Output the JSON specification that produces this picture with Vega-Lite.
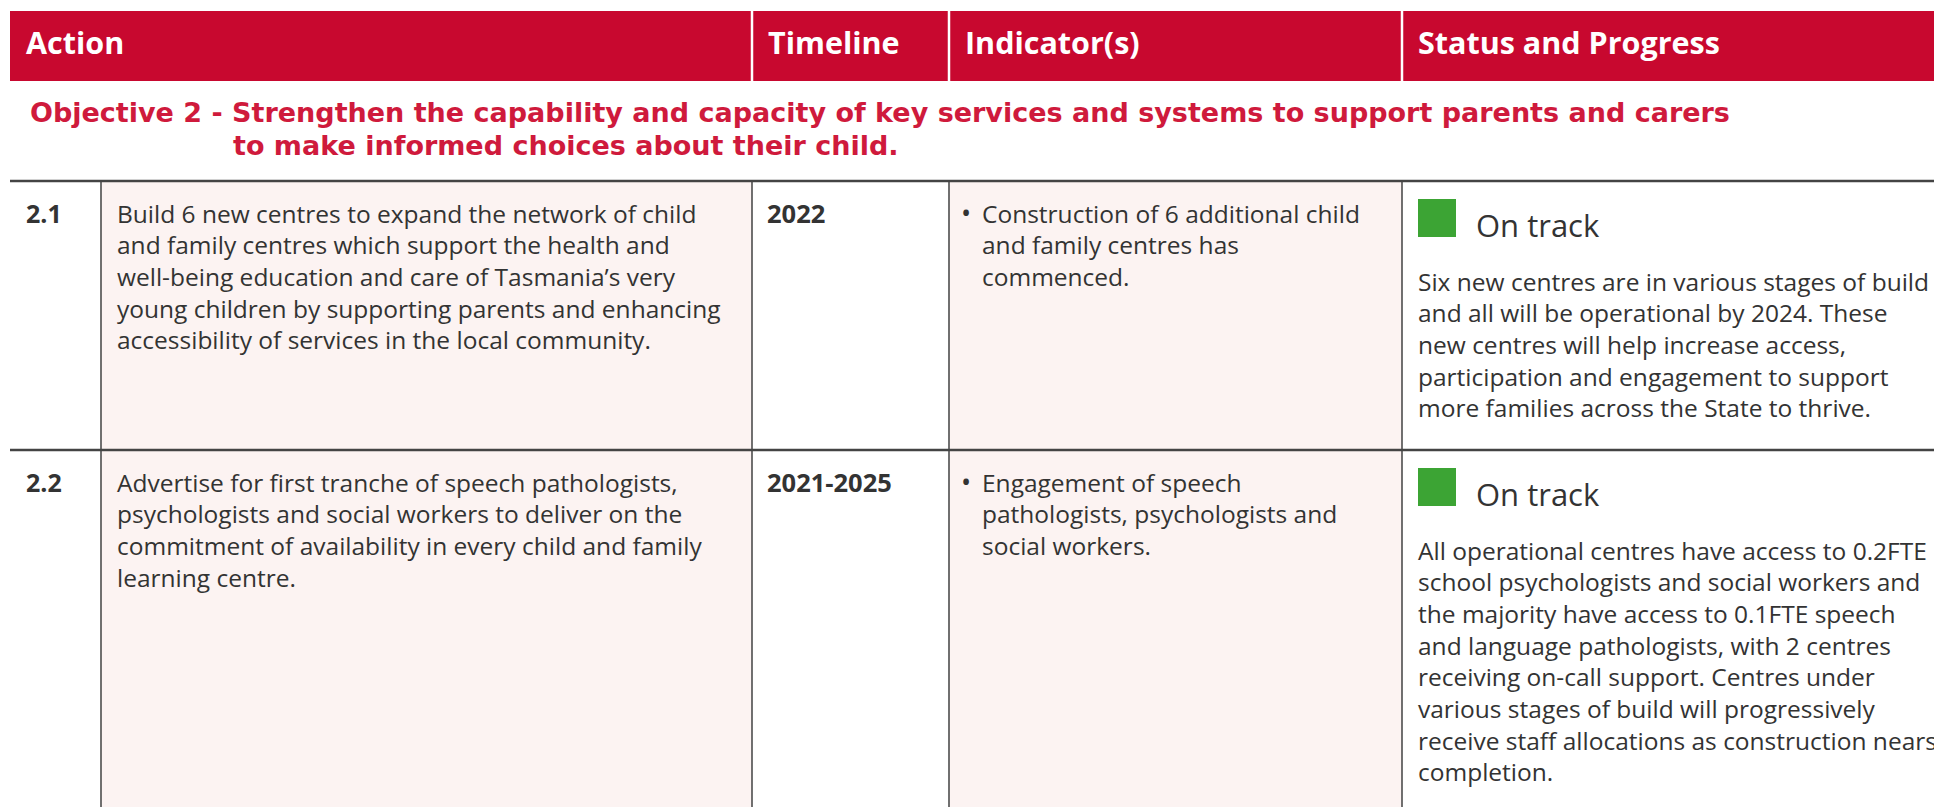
{
  "$schema": "https://vega.github.io/schema/vega-lite/v6.json",
  "width": 1934,
  "height": 807,
  "autosize": "none",
  "padding": 0,
  "background": "white",
  "config": {"view": {"stroke": null}},
  "datasets": {
    "blocks": [
      {"kind": "header", "c": 0, "c2": 5, "r": 1, "r2": 2},
      {"kind": "shade", "c": 1, "c2": 2, "r": 3, "r2": 5},
      {"kind": "shade", "c": 3, "c2": 4, "r": 3, "r2": 5}
    ],
    "header": [
      {"r": 1, "c": 0, "label": "Action"},
      {"r": 1, "c": 2, "label": "Timeline"},
      {"r": 1, "c": 3, "label": "Indicator(s)"},
      {"r": 1, "c": 4, "label": "Status and Progress"}
    ],
    "objective": [
      {"r": 2, "line1": "Objective 2 - Strengthen the capability and capacity of key services and systems to support parents and carers", "line2": "to make informed choices about their child."}
    ],
    "hlines": [{"r": 3}, {"r": 4}],
    "vlines": [{"c": 1}, {"c": 2}, {"c": 3}, {"c": 4}],
    "hdividers": [{"c": 2}, {"c": 3}, {"c": 4}],
    "rows": [
      {
        "r": 3,
        "num": "2.1",
        "action": "Build 6 new centres to expand the network of child\nand family centres which support the health and\nwell-being education and care of Tasmania’s very\nyoung children by supporting parents and enhancing\naccessibility of services in the local community.",
        "timeline": "2022",
        "indicator": "Construction of 6 additional child\nand family centres has\ncommenced.",
        "status": "On track",
        "progress": "Six new centres are in various stages of build\nand all will be operational by 2024. These\nnew centres will help increase access,\nparticipation and engagement to support\nmore families across the State to thrive."
      },
      {
        "r": 4,
        "num": "2.2",
        "action": "Advertise for first tranche of speech pathologists,\npsychologists and social workers to deliver on the\ncommitment of availability in every child and family\nlearning centre.",
        "timeline": "2021-2025",
        "indicator": "Engagement of speech\npathologists, psychologists and\nsocial workers.",
        "status": "On track",
        "progress": "All operational centres have access to 0.2FTE\nschool psychologists and social workers and\nthe majority have access to 0.1FTE speech\nand language pathologists, with 2 centres\nreceiving on-call support. Centres under\nvarious stages of build will progressively\nreceive staff allocations as construction nears\ncompletion."
      }
    ]
  },
  "layer": [
    {
      "data": {"name": "blocks"},
      "mark": {"type": "rect"},
      "encoding": {
        "x": {"field": "c", "type": "quantitative", "scale": {"domain": [0, 1, 2, 3, 4, 5], "range": [10, 101, 752, 949, 1402, 1934], "nice": false, "zero": false}, "axis": null},
        "x2": {"field": "c2"},
        "y": {"field": "r", "type": "quantitative", "scale": {"domain": [1, 2, 3, 4, 5], "range": [11, 81, 181, 450, 900], "nice": false, "zero": false}, "axis": null},
        "y2": {"field": "r2"},
        "color": {"field": "kind", "type": "nominal", "scale": {"domain": ["header", "shade"], "range": ["#c8082f", "#fcf3f2"]}, "legend": null}
      }
    },
    {
      "data": {"name": "hdividers"},
      "mark": {"type": "rule", "color": "white", "strokeWidth": 2.5},
      "encoding": {
        "x": {"field": "c", "type": "quantitative"},
        "y": {"datum": 1, "type": "quantitative"},
        "y2": {"datum": 2}
      }
    },
    {
      "data": {"name": "vlines"},
      "mark": {"type": "rule", "color": "#4d4d4d", "strokeWidth": 1.6},
      "encoding": {
        "x": {"field": "c", "type": "quantitative"},
        "y": {"datum": 3, "type": "quantitative"},
        "y2": {"datum": 5}
      }
    },
    {
      "data": {"name": "hlines"},
      "mark": {"type": "rule", "color": "#444444", "strokeWidth": 2.5},
      "encoding": {
        "x": {"datum": 0, "type": "quantitative"},
        "x2": {"datum": 5},
        "y": {"field": "r", "type": "quantitative"}
      }
    },
    {
      "data": {"name": "header"},
      "mark": {"type": "text", "align": "left", "baseline": "alphabetic", "dx": 16, "dy": 43, "font": "Open Sans", "fontWeight": "bold", "fontSize": 30.5, "color": "white"},
      "encoding": {
        "x": {"field": "c", "type": "quantitative"},
        "y": {"field": "r", "type": "quantitative"},
        "text": {"field": "label"}
      }
    },
    {
      "data": {"name": "objective"},
      "mark": {"type": "text", "align": "left", "baseline": "alphabetic", "dx": 20, "dy": 41, "font": "DejaVu Sans", "fontWeight": "bold", "fontSize": 27, "color": "#cf1a3c"},
      "encoding": {
        "x": {"datum": 0, "type": "quantitative"},
        "y": {"field": "r", "type": "quantitative"},
        "text": {"field": "line1"}
      }
    },
    {
      "data": {"name": "objective"},
      "mark": {"type": "text", "align": "left", "baseline": "alphabetic", "dx": 132, "dy": 74, "font": "DejaVu Sans", "fontWeight": "bold", "fontSize": 27, "color": "#cf1a3c"},
      "encoding": {
        "x": {"datum": 1, "type": "quantitative"},
        "y": {"field": "r", "type": "quantitative"},
        "text": {"field": "line2"}
      }
    },
    {
      "data": {"name": "rows"},
      "mark": {"type": "text", "align": "left", "baseline": "alphabetic", "dx": 16, "dy": 41.5, "font": "Open Sans", "fontWeight": "bold", "fontSize": 25, "color": "#333333"},
      "encoding": {
        "x": {"datum": 0, "type": "quantitative"},
        "y": {"field": "r", "type": "quantitative"},
        "text": {"field": "num"}
      }
    },
    {
      "data": {"name": "rows"},
      "mark": {"type": "text", "align": "left", "baseline": "alphabetic", "dx": 16, "dy": 41.5, "font": "Open Sans", "fontSize": 24.5, "lineHeight": 31.7, "lineBreak": "\n", "color": "#333333"},
      "encoding": {
        "x": {"datum": 1, "type": "quantitative"},
        "y": {"field": "r", "type": "quantitative"},
        "text": {"field": "action"}
      }
    },
    {
      "data": {"name": "rows"},
      "mark": {"type": "text", "align": "left", "baseline": "alphabetic", "dx": 15, "dy": 41.5, "font": "Open Sans", "fontWeight": "bold", "fontSize": 25.5, "color": "#333333"},
      "encoding": {
        "x": {"datum": 2, "type": "quantitative"},
        "y": {"field": "r", "type": "quantitative"},
        "text": {"field": "timeline"}
      }
    },
    {
      "data": {"name": "rows"},
      "mark": {"type": "text", "align": "left", "baseline": "alphabetic", "dx": 12, "dy": 41.5, "font": "Open Sans", "fontSize": 27, "color": "#333333"},
      "encoding": {
        "x": {"datum": 3, "type": "quantitative"},
        "y": {"field": "r", "type": "quantitative"},
        "text": {"value": "•"}
      }
    },
    {
      "data": {"name": "rows"},
      "mark": {"type": "text", "align": "left", "baseline": "alphabetic", "dx": 33, "dy": 41.5, "font": "Open Sans", "fontSize": 24.5, "lineHeight": 31.7, "lineBreak": "\n", "color": "#333333"},
      "encoding": {
        "x": {"datum": 3, "type": "quantitative"},
        "y": {"field": "r", "type": "quantitative"},
        "text": {"field": "indicator"}
      }
    },
    {
      "data": {"name": "rows"},
      "mark": {"type": "rect", "color": "#3ca434", "xOffset": 16, "x2Offset": 54, "yOffset": 18, "y2Offset": 56},
      "encoding": {
        "x": {"datum": 4, "type": "quantitative"},
        "x2": {"datum": 4},
        "y": {"field": "r", "type": "quantitative"},
        "y2": {"field": "r"}
      }
    },
    {
      "data": {"name": "rows"},
      "mark": {"type": "text", "align": "left", "baseline": "alphabetic", "dx": 74, "dy": 56, "font": "Open Sans", "fontSize": 31, "color": "#333333"},
      "encoding": {
        "x": {"datum": 4, "type": "quantitative"},
        "y": {"field": "r", "type": "quantitative"},
        "text": {"field": "status"}
      }
    },
    {
      "data": {"name": "rows"},
      "mark": {"type": "text", "align": "left", "baseline": "alphabetic", "dx": 16, "dy": 109.5, "font": "Open Sans", "fontSize": 24.5, "lineHeight": 31.7, "lineBreak": "\n", "color": "#333333"},
      "encoding": {
        "x": {"datum": 4, "type": "quantitative"},
        "y": {"field": "r", "type": "quantitative"},
        "text": {"field": "progress"}
      }
    }
  ]
}
